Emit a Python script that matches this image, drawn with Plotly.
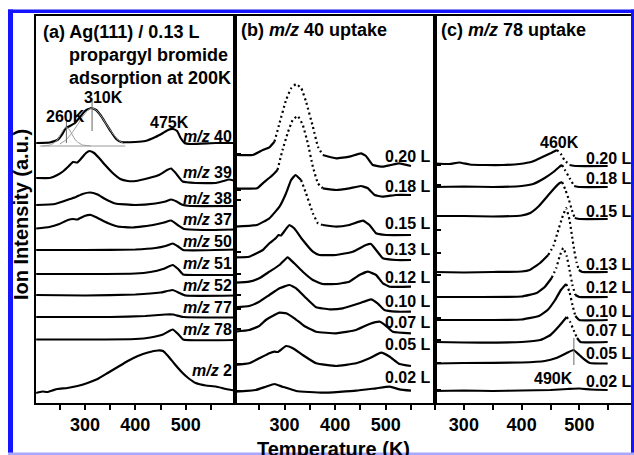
import plotly.graph_objects as go

# ---------------- Panel (a): Ag(111) / 0.13 L propargyl bromide ----------------
a_names = ["m/z 40", "m/z 39", "m/z 38", "m/z 37", "m/z 50", "m/z 51", "m/z 52", "m/z 77", "m/z 78", "m/z 2"]
a_T = [
    [203,230,245,255,262,270,280,290,300,312,322,332,342,352,362,372,400,420,440,455,465,475,483,490,498,510,560,598],
    [203,230,245,256,268,276,285,295,302,309,318,328,340,355,370,385,401,427,447,463,471,480,494,520,560,575,586,598],
    [203,240,256,270,282,295,310,325,340,360,400,440,460,471,482,492,510,598],
    [203,229,249,266,276,285,299,312,325,345,365,395,435,457,471,484,497,534,598],
    [203,300,400,440,460,474,485,495,598],
    [203,300,400,430,455,474,485,495,520,598],
    [203,300,400,450,474,488,500,598],
    [203,350,420,460,475,495,598],
    [203,300,400,430,455,474,485,495,598],
    [203,215,225,235,245,265,285,305,325,345,365,385,405,425,445,455,465,478,492,505,520,540,560,580,598],
]
a_I = [
    [260,260.5,263,269,275,277,280,286,292,295,293,287,279,271,264,261,261,262,266,270,273,274,272,265,260,259,260,260],
    [225,225,228,231.5,237,241,240.5,246,250,252,250,245,238,230,224,222,222,225,228,233,234.5,230,221.5,220,220,222,223.5,222],
    [198,199,201.5,204,206,209,210.5,208.5,204,199.5,198,199.5,201.5,203.5,201.5,198.5,197,197],
    [174.5,176,179,183,184,183.5,187,188,185,180,176.5,175.5,178,180.5,182.5,178,174,173,173.5],
    [153,153,153.5,155,157,159.5,156.5,153,153.5],
    [129,129,129.5,131,134,138,134,128.5,128,128],
    [108,107.5,108.5,110.5,113,110,107.5,107.5],
    [86,86,87,88.5,88.5,86,85.5],
    [63.5,63.5,64,65.5,68.5,73.5,69,63.5,63],
    [10,11.5,11,12.5,14,15,17,20,24,30,36,42,47,50.5,52.5,52,47,39,31,25,20,17.5,16.5,14,12.5],
]
a_label_y = [267, 231, 204.5, 184, 162, 140, 118, 95.5, 74, 33]

# peak-fit components of m/z 40 (thin grey)
fit1_T = [215,231,241,245,251,258,263,268,275,281,285,295,311]
fit1_I = [257,258,261,263,268,274,276,274,268,263,261,258,257]
fit2_T = [250,262,274,286,296,306,314,322,332,342,354,366,378]
fit2_I = [259,263,270,279,287,293,295,293,287,279,270,263,259]
fitbase_T = [210, 380]
fitbase_I = [257, 257]

# ---------------- Panel (b): m/z 40 uptake ----------------
b_names = ["0.20 L","0.18 L","0.15 L","0.13 L","0.12 L","0.10 L","0.07 L","0.05 L","0.02 L"]
b_T = [
    [202,237,257,270,280,290,303,313,323,333,342.5,356,366,375.5,402,428,451,461,474.5,494,510,527,550],
    [202,245.5,257,276.5,286,296,306,316,326,336,346,356,366,375.5,402,428,451,464,478,494,520,550],
    [202,245,270,290,303,313,321.5,332.6,342.5,356,366,375.5,402,428,455,468,481,501,550],
    [202,230,257,270,283,288,293,300,309.5,319,336,356,369,402,435,461,471,481,494.5,521,550],
    [202,230,250,270,290,306,319,336,356,375.5,402,428,448,465,481,494.5,508,550],
    [202,230,250,270,290,310,323,343,362.5,389,415,448,471,484,497.5,521,550],
    [202,230,250,263,280,290,303,319.5,339,362.5,402,441.5,468,488,501,514,550],
    [202,230,250,270,280,287,303,316.5,336,362.5,402,441.5,468,491,508,527.5,550],
    [202,243,263,280,296,323,375.5,441.5,481,508,527.5,550],
]
b_I = [
    [248,248,253,255.7,261.3,279.7,303,314.7,319,314.7,301.3,276.3,256.3,248,244.7,246.3,249.7,247,238,236.3,238,239.7,237],
    [214.7,214.7,219.7,228,233,253,269.7,283,287,278,259.7,236.3,219.7,214.7,213,214.7,217,215,208,206.3,208,208],
    [176.3,178,184.7,196.3,209.7,223,228,223,209.7,189.7,179.7,178,176.3,178,182.3,178,169.7,168,168],
    [145.7,146.3,153,159.7,165,168,167.5,172,178,174.7,163,151.3,148,148,151.3,158,159,153,144.7,143,143],
    [120.3,121.3,124.7,131.3,138,145.7,139.7,131.3,123,119,119,121.3,128,131.3,128,119.7,116.3,116.3],
    [95.7,97,101.3,108,114.7,118,114.7,104.7,95.7,93.7,94.7,99.7,103.7,99.7,93,91.3,91.3],
    [71.3,73,77,83,88,90.3,89.7,84.7,77,71.3,69.7,73,79,81.3,77,71.3,69.7],
    [38,39.7,44.7,49.7,51.3,51,57,54.7,48,39.7,37,39.7,44.7,50.3,46.3,39,37],
    [11.3,13,16.3,19,16.3,12,10.3,12.3,14.7,16.3,13.7,12.3],
]
b_label_y = [247, 216.5, 179.5, 154, 125.5, 102, 80.5, 59, 25.5]

# ---------------- Panel (c): m/z 78 uptake ----------------
c_names = b_names
c_T = [
    [250,275,292,310,338,367,396,419,436,451,461,468,474,483,494,549],
    [250,300,350,400,420,440,455,465,470,475,483,491,500,549],
    [250,300,350,400,415,430,445,457,466,470,476,482,487,492,500,549],
    [250,300,350,400,414,432,446,455,462,470,477,483,487,491,495,499,505,549],
    [250,300,400,426,440,452,460,466,472,478,483,488,493,500,549],
    [250,300,400,430,445,458,468,477,483,488,493,500,549],
    [250,300,400,432,450,465,478,484,490,496,502,549],
    [250,300,400,440,460,478,490,500,510,518,549],
    [250,300,350,400,450,480,500,520,549],
]
c_I = [
    [239.5,239,240.5,238.5,238,238,239,241.5,246,250,253,249,243,238,237,237],
    [216,216.5,216,217,219,225,231,236,238,233,225,217,216,216],
    [187,187,186.5,187.5,190,197,207,215,220,221,213,203,193,185,184,184],
    [131,130.5,131,131.5,133,140,148,157,170,185,195,183,168,153,141,133,131,131],
    [106,106,106.5,110,116,125,135,147,155,147,133,118,108,106,106],
    [83,83,83.5,87,93,103,113,119,111,98,87,83,83],
    [61,60.5,61,63,68,77,86,81,73,65,61,61],
    [39.5,40,40.5,42,45,50,53,48,43,40,39.5],
    [12,12.5,12,12.5,13,14,14.5,13.5,13],
]
c_label_y = [245, 225, 192, 139, 115.5, 92, 73, 49.5, 22]

tick_T = [250, 300, 350, 400, 450, 500, 550]
tick_text = ["", "300", "", "400", "", "500", ""]

# ---------------- styles ----------------
b_dotted = {0: (280, 375.5), 1: (286, 375.5), 2: (332.6, 375.5)}
c_dotted = {0: (461, 483), 1: (470, 491), 2: (470, 492), 3: (446, 499),
            4: (452, 493), 5: (477, 493), 6: (478, 496)}

FONT = "Arial, 'Liberation Sans', sans-serif"
W, H = 634, 455
ML, MR, MT, MB = 36, 0, 16, 52
PW, PH = W - ML - MR, H - MT - MB


def pxx(px):
    return (px - ML) / PW


def pxy(py):
    return (H - MB - py) / PH


fig = go.Figure()


def add_curve(xa, ya, T, I, dot=None, color="black", width=2.2):
    segs = []
    if dot is None:
        segs.append((T, I, "solid"))
    else:
        t0, t1 = dot
        s1 = [(t, v) for t, v in zip(T, I) if t <= t0]
        d = [(t, v) for t, v in zip(T, I) if t0 <= t <= t1]
        s2 = [(t, v) for t, v in zip(T, I) if t >= t1]
        for pts, style in ((s1, "solid"), (d, "2px,3px"), (s2, "solid")):
            if len(pts) > 1:
                segs.append(([p[0] for p in pts], [p[1] for p in pts], style))
    for x, y, style in segs:
        fig.add_trace(go.Scatter(x=x, y=y, xaxis=xa, yaxis=ya, mode="lines",
                                 line=dict(color=color, width=width, dash=style,
                                           shape="spline", smoothing=0.35),
                                 showlegend=False, hoverinfo="skip"))


# panel a
for T, I in zip(a_T, a_I):
    add_curve("x", "y", T, I)
for T, I in ((fit1_T, fit1_I), (fit2_T, fit2_I), (fitbase_T, fitbase_I)):
    add_curve("x", "y", T, I, color="#9a9a9a", width=1)
# panel b
for k, (T, I) in enumerate(zip(b_T, b_I)):
    add_curve("x2", "y2", T, I, b_dotted.get(k))
# panel c
for k, (T, I) in enumerate(zip(c_T, c_I)):
    add_curve("x3", "y3", T, I, c_dotted.get(k))

# peak marker lines
markers = [("x", "y", 263, 260, 283), ("x", "y", 314, 272, 305), ("x3", "y3", 490.5, 38, 65)]
for xa, ya, t, y0, y1 in markers:
    fig.add_shape(type="line", xref=xa, yref=ya, x0=t, x1=t, y0=y0, y1=y1,
                  line=dict(color="#666666", width=1))

ann = []


def label(text, x, y, xref, yref, size=16, xanchor="center", yanchor="middle", angle=0):
    ann.append(dict(text=text, x=x, y=y, xref=xref, yref=yref, showarrow=False,
                    xanchor=xanchor, yanchor=yanchor, textangle=angle, borderpad=0,
                    font=dict(family=FONT, size=size, color="black", weight="bold")))


def mz(name):
    return name.replace("m/z", "<i>m/z</i>")


for n, y in zip(a_names, a_label_y):
    label(mz(n), 595, y, "x", "y", xanchor="right")
for n, y in zip(b_names, b_label_y):
    label(n, 591, y, "x2", "y2", xanchor="right")
for n, y in zip(c_names, c_label_y):
    label(n, 593.5, y, "x3", "y3", xanchor="right")

label("310K", 337, 306, "x", "y")
label("260K", 262, 287, "x", "y")
label("475K", 468, 281, "x", "y")
label("460K", 465, 260.5, "x3", "y3")
label("490K", 456, 24.5, "x3", "y3")

label("(a) Ag(111) / 0.13 L", pxx(42), pxy(32), "paper", "paper", size=18, xanchor="left")
label("propargyl bromide", pxx(68), pxy(55), "paper", "paper", size=18, xanchor="left")
label("adsorption at 200K", pxx(68), pxy(78), "paper", "paper", size=18, xanchor="left")
label("(b) <i>m/z</i> 40 uptake", pxx(240), pxy(30), "paper", "paper", size=18, xanchor="left")
label("(c) <i>m/z</i> 78 uptake", pxx(440), pxy(30), "paper", "paper", size=18, xanchor="left")

label("Ion Intensity (a.u.)", pxx(21), pxy(215), "paper", "paper", size=20, angle=-90)
label("Temperature (K)", pxx(333), pxy(449), "paper", "paper", size=20)

# blue frame
frame = [
    (8, 634, 9.5, 13, "#1414ff"),
    (8, 13, 9.5, 455, "#1414ff"),
    (631, 636, 9.5, 455, "#1414ff"),
    (8, 634, 452.5, 455, "#a8a8ff"),
]
for x0, x1, y0, y1, col in frame:
    fig.add_shape(type="rect", xref="paper", yref="paper", x0=pxx(x0), x1=pxx(x1),
                  y0=pxy(y1), y1=pxy(y0), fillcolor=col, line=dict(width=0), layer="above")

xcommon = dict(showline=True, linecolor="black", linewidth=1.5, mirror=True, ticks="outside",
               ticklen=5, tickwidth=1.5, tickcolor="black", tickvals=tick_T, ticktext=tick_text,
               showgrid=False, zeroline=False,
               tickfont=dict(family=FONT, size=18, color="black", weight="bold"))
ycommon = dict(showline=True, linecolor="black", linewidth=1.5, mirror=True, side="right",
               ticks="outside", ticklen=4, tickwidth=1.5, tickcolor="black",
               showticklabels=False, showgrid=False, zeroline=False, range=[0, PH], domain=[0, 1])

a_ticks = [249, 213, 203, 151, 129, 108, 94, 74, 39, 12]
b_ticks = [238, 218, 173, 150, 128, 106, 85, 63, 40, 13]

fig.update_layout(
    width=W, height=H, margin=dict(l=ML, r=MR, t=MT, b=MB),
    paper_bgcolor="white", plot_bgcolor="white", showlegend=False,
    xaxis=dict(xcommon, domain=[0, 199 / PW], range=[202.6, 598], anchor="y"),
    xaxis2=dict(xcommon, domain=[199 / PW, 399 / PW], range=[202, 597.5], anchor="y2"),
    xaxis3=dict(xcommon, domain=[399 / PW, 1], range=[250, 594.6], anchor="y3"),
    yaxis=dict(ycommon, anchor="x", tickvals=a_ticks),
    yaxis2=dict(ycommon, anchor="x2", tickvals=b_ticks),
    yaxis3=dict(ycommon, anchor="x3", ticks=""),
    annotations=ann,
)

fig.write_html("out.html")
